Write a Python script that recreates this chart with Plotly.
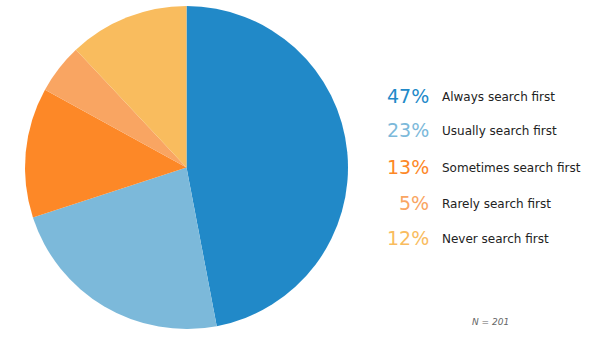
import plotly.graph_objects as go

labels = ["Always search first", "Usually search first", "Sometimes search first",
          "Rarely search first", "Never search first"]
values = [47, 23, 13, 5, 12]
colors = ["#2189c8", "#7cb9da", "#fd8827", "#f9a562", "#f9bc5e"]
note = "N = 201"

W, H = 600, 354

fig = go.Figure(go.Pie(
    labels=labels, values=values, sort=False, direction="clockwise", rotation=0,
    marker=dict(colors=colors, line=dict(width=0)),
    textinfo="none", hoverinfo="label+percent", showlegend=False,
    domain=dict(x=[25/W, 348/W], y=[1-329/H, 1-6/H]),
))

row_y = [96, 130, 167, 203, 238]
anns = []
for lab, v, c, ry in zip(labels, values, colors, row_y):
    anns.append(dict(x=431/W, y=1-ry/H, xref="paper", yref="paper", xanchor="right", yanchor="middle",
                     text=f"{v}%", showarrow=False, font=dict(family="DejaVu Sans", size=19, color=c)))
    anns.append(dict(x=440/W, y=1-(ry+1)/H, xref="paper", yref="paper", xanchor="left", yanchor="middle",
                     text=lab, showarrow=False, font=dict(family="DejaVu Sans", size=12, color="#222222")))
anns.append(dict(x=490/W, y=1-322/H, xref="paper", yref="paper", xanchor="center", yanchor="middle",
                 text=f"<i>{note}</i>", showarrow=False, font=dict(family="DejaVu Sans", size=9, color="#666666")))

fig.update_layout(width=W, height=H, margin=dict(l=0, r=0, t=0, b=0),
                  paper_bgcolor="white", plot_bgcolor="white", annotations=anns)
fig.write_html("out.html")
